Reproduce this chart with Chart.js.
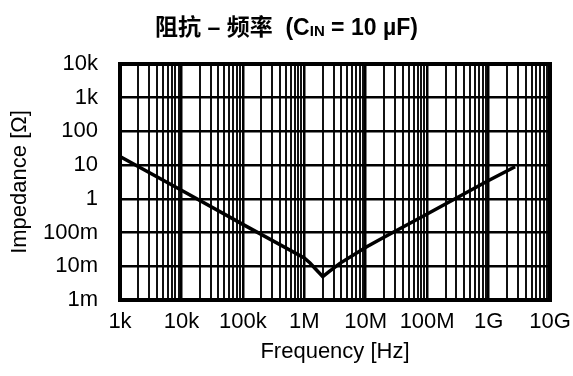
<!DOCTYPE html>
<html>
<head>
<meta charset="utf-8">
<script src="https://cdn.jsdelivr.net/npm/chart.js@4"></script>
<style>
  body { margin: 0; background: #fff; }
  #wrap { position: relative; width: 573px; height: 376px; }
  #titulo { position: absolute; left: 0; top: 14px; width: 573px; text-align: center;
    font: bold 23px "Liberation Sans", "Noto Sans CJK SC", sans-serif; line-height: 26px; color: #000; }
  #titulo sub { font-size: 15px; vertical-align: baseline; position: relative; top: 1px; }
</style>
</head>
<body>
<div id="wrap">
  <div id="titulo">阻抗 – 频率&nbsp; (C<sub>IN</sub> = 10 µF)</div>
  <canvas id="grafico" width="573" height="376"></canvas>
</div>
<script>
// datos
const frecuencias = [1e3, 1e4, 1e5, 1e6, 1.24e6, 1.5e6, 2e6, 2.5e6, 3.8e6, 10.4e6, 18.2e6, 1e8, 1e9, 2.7e9];
const impedancias = [18, 1.8, 0.175, 0.0176, 0.0125, 0.0086, 0.0049, 0.0068, 0.0122, 0.038, 0.067, 0.355, 3.5, 9.0];

const decadasX = [1e3, 1e4, 1e5, 1e6, 1e7, 1e8, 1e9, 1e10];
const etiquetasX = ['1k', '10k', '100k', '1M', '10M', '100M', '1G', '10G'];
const decadasY = [1e-3, 1e-2, 1e-1, 1, 10, 100, 1e3, 1e4];
const etiquetasY = ['1m', '10m', '100m', '1', '10', '100', '1k', '10k'];

const fuente = '"Liberation Sans", Arial, sans-serif';

// ticks menores 2..9 en cada decada
const ticksX = [];
decadasX.forEach((d, i) => {
  ticksX.push(d);
  if (i < decadasX.length - 1) for (let m = 2; m <= 9; m++) ticksX.push(d * m);
});

const marco = {
  id: 'marco',
  afterDatasetsDraw(chart) {
    const { ctx, chartArea: a } = chart;
    ctx.save();
    ctx.lineWidth = 4;
    ctx.strokeStyle = '#000';
    ctx.strokeRect(a.left, a.top, a.right - a.left, a.bottom - a.top);
    ctx.restore();
  }
};

const ctx = document.getElementById('grafico').getContext('2d');
new Chart(ctx, {
  type: 'line',
  data: {
    datasets: [{
      data: frecuencias.map((f, i) => ({ x: f, y: impedancias[i] })),
      borderColor: '#000',
      borderWidth: 3.5,
      pointRadius: 0,
      fill: false,
      tension: 0
    }]
  },
  options: {
    responsive: false,
    animation: false,
    layout: { padding: { top: 64, right: 23, left: 0, bottom: 0 } },
    plugins: { legend: { display: false }, tooltip: { enabled: false } },
    scales: {
      x: {
        type: 'logarithmic', min: 1e3, max: 1e10,
        afterBuildTicks: s => { s.ticks = ticksX.map(v => ({ value: v })); },
        afterFit: s => { s.height = 76; s.paddingLeft = 0; s.paddingRight = 0; },
        ticks: {
          autoSkip: false, maxRotation: 0, padding: 9, color: '#000',
          font: { size: 22, family: fuente },
          callback: v => { const i = decadasX.indexOf(v); return i >= 0 ? etiquetasX[i] : ''; }
        },
        grid: {
          drawTicks: false,
          color: c => decadasX.includes(c.tick.value) ? '#000' : '#111',
          lineWidth: c => decadasX.includes(c.tick.value) ? 2.5 : 2
        },
        border: { display: false },
        title: { display: true, text: 'Frequency [Hz]', color: '#000', font: { size: 22, family: fuente }, padding: { top: 0, bottom: 11 } }
      },
      y: {
        type: 'logarithmic', min: 1e-3, max: 1e4,
        afterBuildTicks: s => { s.ticks = decadasY.map(v => ({ value: v })); },
        afterFit: s => { s.width = 120; s.paddingTop = 0; s.paddingBottom = 0; },
        ticks: {
          autoSkip: false, padding: 22, color: '#000',
          font: { size: 22, family: fuente },
          callback: v => { const i = decadasY.indexOf(v); return i >= 0 ? etiquetasY[i] : ''; }
        },
        grid: { drawTicks: false, color: '#000', lineWidth: 2.5 },
        border: { display: false },
        title: { display: true, text: 'Impedance [Ω]', color: '#000', font: { size: 22, family: fuente }, padding: { top: 7, bottom: 0 } }
      }
    }
  },
  plugins: [marco]
});
</script>
</body>
</html>
